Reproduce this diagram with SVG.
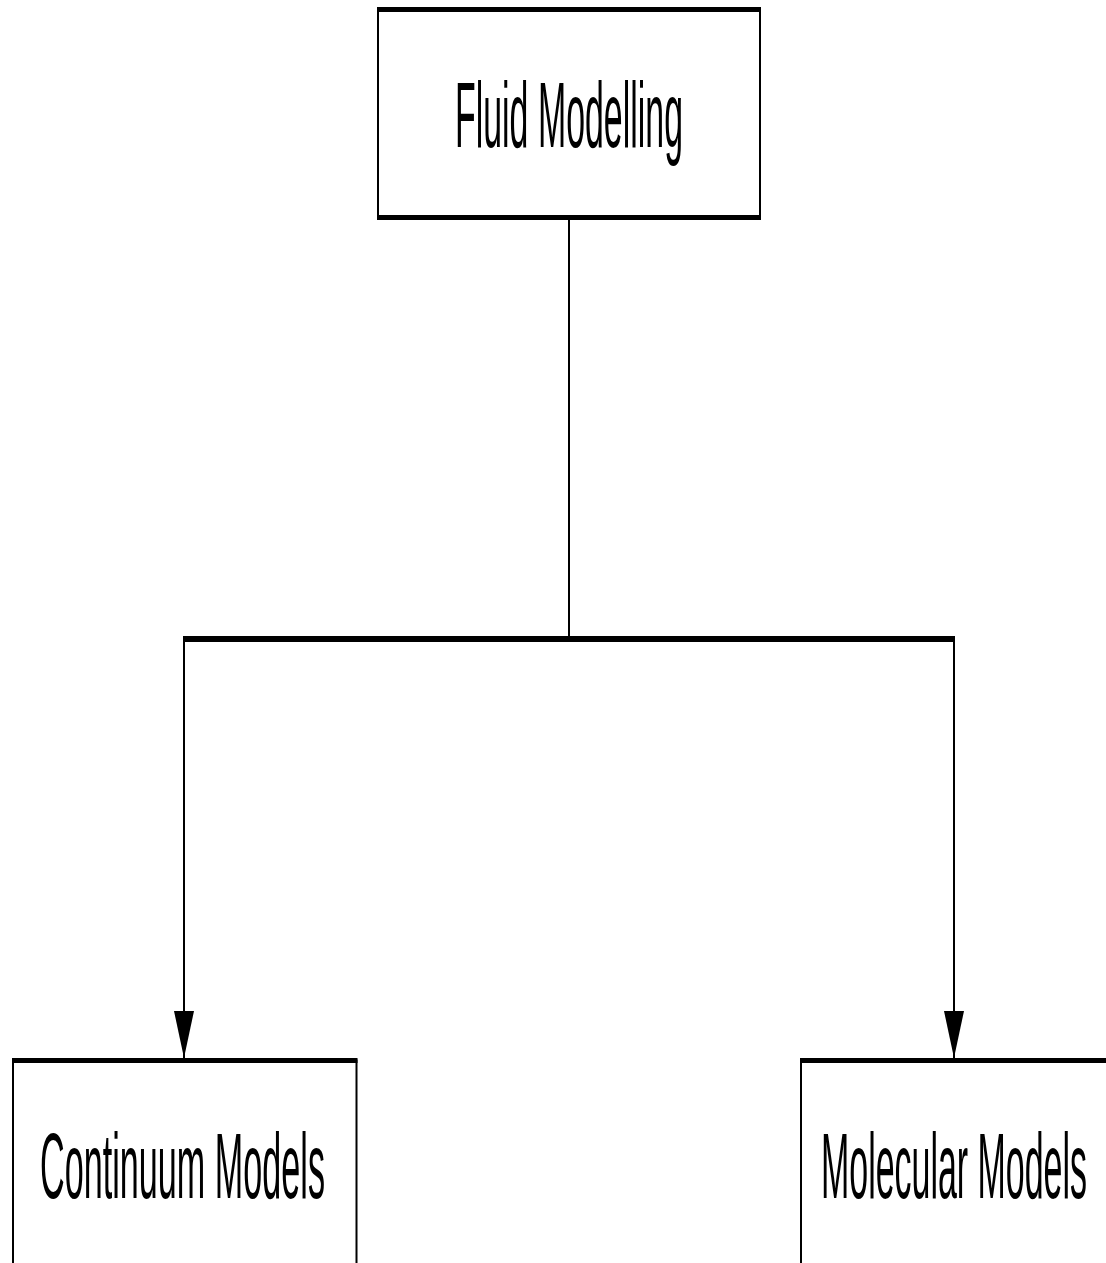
<svg xmlns="http://www.w3.org/2000/svg" width="1106" height="1263" viewBox="0 0 1106 1263">
<style>
.box{fill:#fff;stroke:#000;stroke-width:2}
.edge{stroke:#000;stroke-width:5}
.lbl{font-family:"Liberation Sans",Arial,sans-serif;font-size:93px;fill:#000}
.conn{stroke:#000;fill:none;stroke-width:2}
.bar{stroke:#000;fill:none;stroke-width:6}
</style>
<defs>
<marker id="arr" markerUnits="userSpaceOnUse" viewBox="0 0 47 20" markerWidth="47" markerHeight="20" refX="47" refY="10" orient="auto">
<path d="M0,0 L47,10 L0,20 z" fill="#000"/>
</marker>
</defs>
<rect width="1106" height="1263" fill="#fff"/>
<g id="connectors">
<line class="conn" x1="569" y1="220" x2="569" y2="639"/>
<line class="bar" x1="183" y1="639" x2="955" y2="639"/>
<line class="conn" x1="184" y1="639" x2="184" y2="1058" marker-end="url(#arr)"/>
<line class="conn" x1="954" y1="639" x2="954" y2="1058" marker-end="url(#arr)"/>
</g>
<g id="fluid-modelling">
<rect class="box" x="378" y="9.5" width="382" height="208"/>
<line class="edge" x1="377" y1="9.5" x2="761" y2="9.5"/>
<line class="edge" x1="377" y1="217.5" x2="761" y2="217.5"/>
<text class="lbl" x="455" y="147" textLength="228" lengthAdjust="spacingAndGlyphs">Fluid Modelling</text>
</g>
<g id="continuum-models">
<rect class="box" x="13" y="1060.5" width="343.5" height="230"/>
<line class="edge" x1="12" y1="1060.5" x2="357.5" y2="1060.5"/>
<text class="lbl" x="40" y="1198" textLength="285" lengthAdjust="spacingAndGlyphs">Continuum Models</text>
</g>
<g id="molecular-models">
<rect class="box" x="801" y="1060.5" width="306" height="230"/>
<line class="edge" x1="800" y1="1060.5" x2="1106" y2="1060.5"/>
<text class="lbl" x="821" y="1198" textLength="266" lengthAdjust="spacingAndGlyphs">Molecular Models</text>
</g>
</svg>
